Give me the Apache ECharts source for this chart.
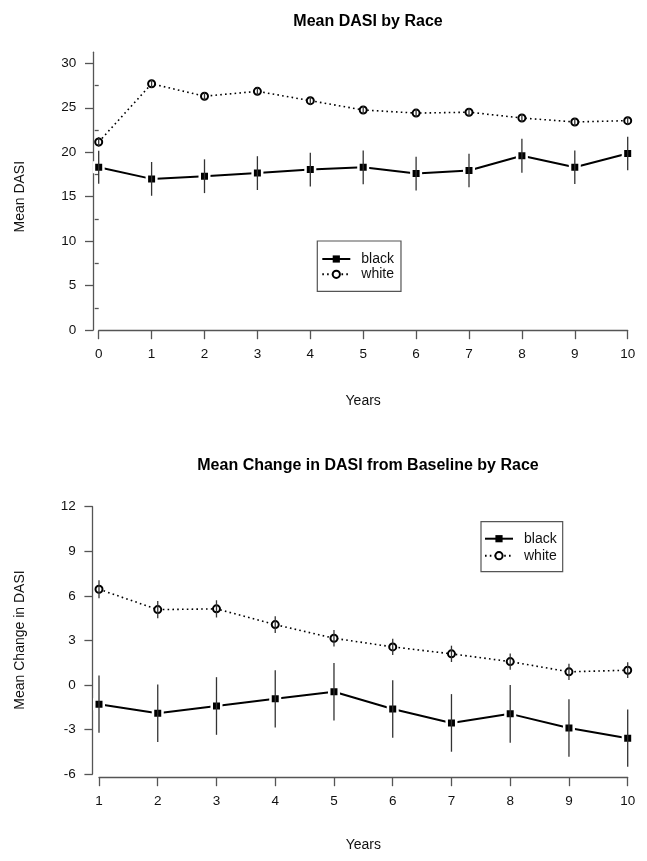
<!DOCTYPE html>
<html>
<head>
<meta charset="utf-8">
<script src="https://cdn.jsdelivr.net/npm/echarts@6/dist/echarts.min.js"></script>
<style>
html,body{margin:0;padding:0;background:#fff;}
#chart{width:647px;height:861px;}
</style>
</head>
<body>
<div id="chart"></div>
<script>
// ---- data ----
var yearsTop = [0, 1, 2, 3, 4, 5, 6, 7, 8, 9, 10];
var blackMeanTop = [18.3, 17.0, 17.3, 17.65, 18.05, 18.3, 17.6, 17.95, 19.6, 18.3, 19.85];
var blackErrTop = [1.85, 1.9, 1.9, 1.9, 1.9, 1.9, 1.9, 1.88, 1.9, 1.88, 1.88];
var whiteMeanTop = [21.15, 27.7, 26.3, 26.85, 25.8, 24.75, 24.4, 24.5, 23.85, 23.4, 23.55];
var whiteErrTop = [0.55, 0.45, 0.45, 0.45, 0.45, 0.45, 0.45, 0.45, 0.45, 0.45, 0.45];

var yearsBot = [1, 2, 3, 4, 5, 6, 7, 8, 9, 10];
var blackMeanBot = [-1.3, -1.91, -1.42, -0.94, -0.46, -1.62, -2.56, -1.95, -2.9, -3.59];
var blackErrBot = [1.93, 1.93, 1.94, 1.93, 1.93, 1.94, 1.94, 1.94, 1.94, 1.93];
var whiteMeanBot = [6.44, 5.07, 5.12, 4.06, 3.14, 2.56, 2.09, 1.57, 0.88, 0.99];
var whiteErrBot = [0.6, 0.58, 0.58, 0.56, 0.56, 0.55, 0.55, 0.55, 0.55, 0.53];

var topMajorTicks = [0, 5, 10, 15, 20, 25, 30];
var topMinorTicks = [2.5, 7.5, 12.5, 17.5, 22.5, 27.5];

var titleTop = 'Mean DASI by Race';
var titleBot = 'Mean Change in DASI from Baseline by Race';
var yNameTop = 'Mean DASI';
var yNameBot = 'Mean Change in DASI';
var xName = 'Years';
var legendNames = ['black', 'white'];

// ---- helpers ----
var FONT = '"Liberation Sans", Arial, Helvetica, sans-serif';
function pairs(xs, ys) { return xs.map(function (x, i) { return [x, ys[i]]; }); }
function bars(xs, m, e) { return xs.map(function (x, i) { return [x, m[i] - e[i], m[i] + e[i]]; }); }
function errRender(params, api) {
  var x = api.value(0);
  var a = api.coord([x, api.value(1)]);
  var b = api.coord([x, api.value(2)]);
  return { type: 'line', shape: { x1: a[0], y1: a[1], x2: b[0], y2: b[1] },
    style: { stroke: '#333', lineWidth: 1.3 } };
}
var axisCol = '#555';
function xAxisCfg(gi, min, offset, gap) {
  return {
    type: 'value', gridIndex: gi, min: min, max: 10, interval: 1, offset: offset,
    name: xName, nameLocation: 'middle', nameGap: gap,
    nameTextStyle: { fontFamily: FONT, fontSize: 14, color: '#111' },
    axisLine: { show: true, onZero: false, lineStyle: { color: axisCol, width: 1.3 } },
    axisTick: { show: true, length: 8.5, lineStyle: { color: axisCol, width: 1.3 } },
    axisLabel: { fontFamily: FONT, fontSize: 13.5, color: '#111', margin: 17 },
    splitLine: { show: false }
  };
}
function blackLine(xi, yi, data) {
  return {
    type: 'line', name: 'black', xAxisIndex: xi, yAxisIndex: yi, data: data,
    symbol: 'rect', symbolSize: 9.5, z: 2,
    lineStyle: { color: '#000', width: 2 },
    itemStyle: { color: '#000', borderColor: '#fff', borderWidth: 2.5 },
    emphasis: { disabled: true }, animation: false
  };
}
function whiteLine(xi, yi, data) {
  return {
    type: 'line', name: 'white', xAxisIndex: xi, yAxisIndex: yi, data: data,
    symbol: 'emptyCircle', symbolSize: 7, z: 2,
    lineStyle: { color: '#000', width: 1.6, type: [1.6, 3.2] },
    itemStyle: { color: '#000', borderColor: '#000', borderWidth: 1.5 },
    emphasis: { disabled: true }, animation: false
  };
}
function errSeries(xi, yi, data) {
  return { type: 'custom', xAxisIndex: xi, yAxisIndex: yi, data: data, z: 5,
    renderItem: errRender, encode: { x: 0, y: [1, 2] }, silent: true, animation: false };
}
function legendCfg(left, top, gap, pad) {
  return {
    orient: 'vertical', left: left, top: top, itemGap: gap, padding: pad,
    itemWidth: 28, itemHeight: 9, borderColor: '#555', borderWidth: 1.2,
    selectedMode: false,
    textStyle: { fontFamily: FONT, fontSize: 14, color: '#111', padding: [0, 0, 0, 6] },
    data: [{ name: 'black', itemStyle: { borderWidth: 0 } },
           { name: 'white' }]
  };
}

var chart = echarts.init(document.getElementById('chart'), null, { renderer: 'canvas' });
chart.setOption({
  backgroundColor: '#fff',
  animation: false,
  title: [
    { text: titleTop, left: 363, top: 9, textAlign: 'center',
      textStyle: { fontFamily: FONT, fontSize: 16, fontWeight: 'bold', color: '#000' } },
    { text: titleBot, left: 363, top: 453, textAlign: 'center',
      textStyle: { fontFamily: FONT, fontSize: 16, fontWeight: 'bold', color: '#000' } }
  ],
  grid: [
    { left: 98.7, right: 19.3, top: 52.2, bottom: 531, outerBoundsMode: 'none' },
    { left: 99, right: 19.3, top: 506.7, bottom: 87, outerBoundsMode: 'none' }
  ],
  xAxis: [
    xAxisCfg(0, 0, 0.7, 63),
    xAxisCfg(1, 1, 3.7, 60)
  ],
  yAxis: [
    { type: 'value', gridIndex: 0, min: 0, max: 31.25, offset: 5.4,
      axisLine: { show: true, onZero: false, lineStyle: { color: axisCol, width: 1.3 } },
      axisTick: { show: true, length: 8.3, customValues: topMajorTicks, lineStyle: { color: axisCol, width: 1.3 } },
      axisLabel: { fontFamily: FONT, fontSize: 13.5, color: '#111', margin: 17, customValues: topMajorTicks },
      splitLine: { show: false } },
    { type: 'value', gridIndex: 0, min: 0, max: 31.25, offset: 5.4, position: 'left',
      axisLine: { show: false },
      axisTick: { show: true, length: 4, customValues: topMinorTicks, lineStyle: { color: axisCol, width: 1.3 } },
      axisLabel: { show: false },
      splitLine: { show: false } },
    { type: 'value', gridIndex: 1, min: -6, max: 12, interval: 3, offset: 6.3,
      axisLine: { show: true, onZero: false, lineStyle: { color: axisCol, width: 1.3 } },
      axisTick: { show: true, length: 8.3, lineStyle: { color: axisCol, width: 1.3 } },
      axisLabel: { fontFamily: FONT, fontSize: 13.5, color: '#111', margin: 17 },
      splitLine: { show: false } }
  ],
  legend: [
    legendCfg(317.3, 241, 1.3, [11, 7, 10, 4]),
    legendCfg(481, 521.7, 3, [10, 6, 9, 3])
  ],
  graphic: [
    { type: 'text', x: 20, y: 196.7, rotation: Math.PI / 2,
      style: { text: yNameTop, font: '14px ' + FONT, fill: '#111', align: 'center', verticalAlign: 'middle' } },
    { type: 'text', x: 20, y: 640, rotation: Math.PI / 2,
      style: { text: yNameBot, font: '14px ' + FONT, fill: '#111', align: 'center', verticalAlign: 'middle' } }
  ],
  series: [
    blackLine(0, 0, pairs(yearsTop, blackMeanTop)),
    whiteLine(0, 0, pairs(yearsTop, whiteMeanTop)),
    errSeries(0, 0, bars(yearsTop, blackMeanTop, blackErrTop)),
    errSeries(0, 0, bars(yearsTop, whiteMeanTop, whiteErrTop)),
    blackLine(1, 2, pairs(yearsBot, blackMeanBot)),
    whiteLine(1, 2, pairs(yearsBot, whiteMeanBot)),
    errSeries(1, 2, bars(yearsBot, blackMeanBot, blackErrBot)),
    errSeries(1, 2, bars(yearsBot, whiteMeanBot, whiteErrBot))
  ]
});
</script>
</body>
</html>
